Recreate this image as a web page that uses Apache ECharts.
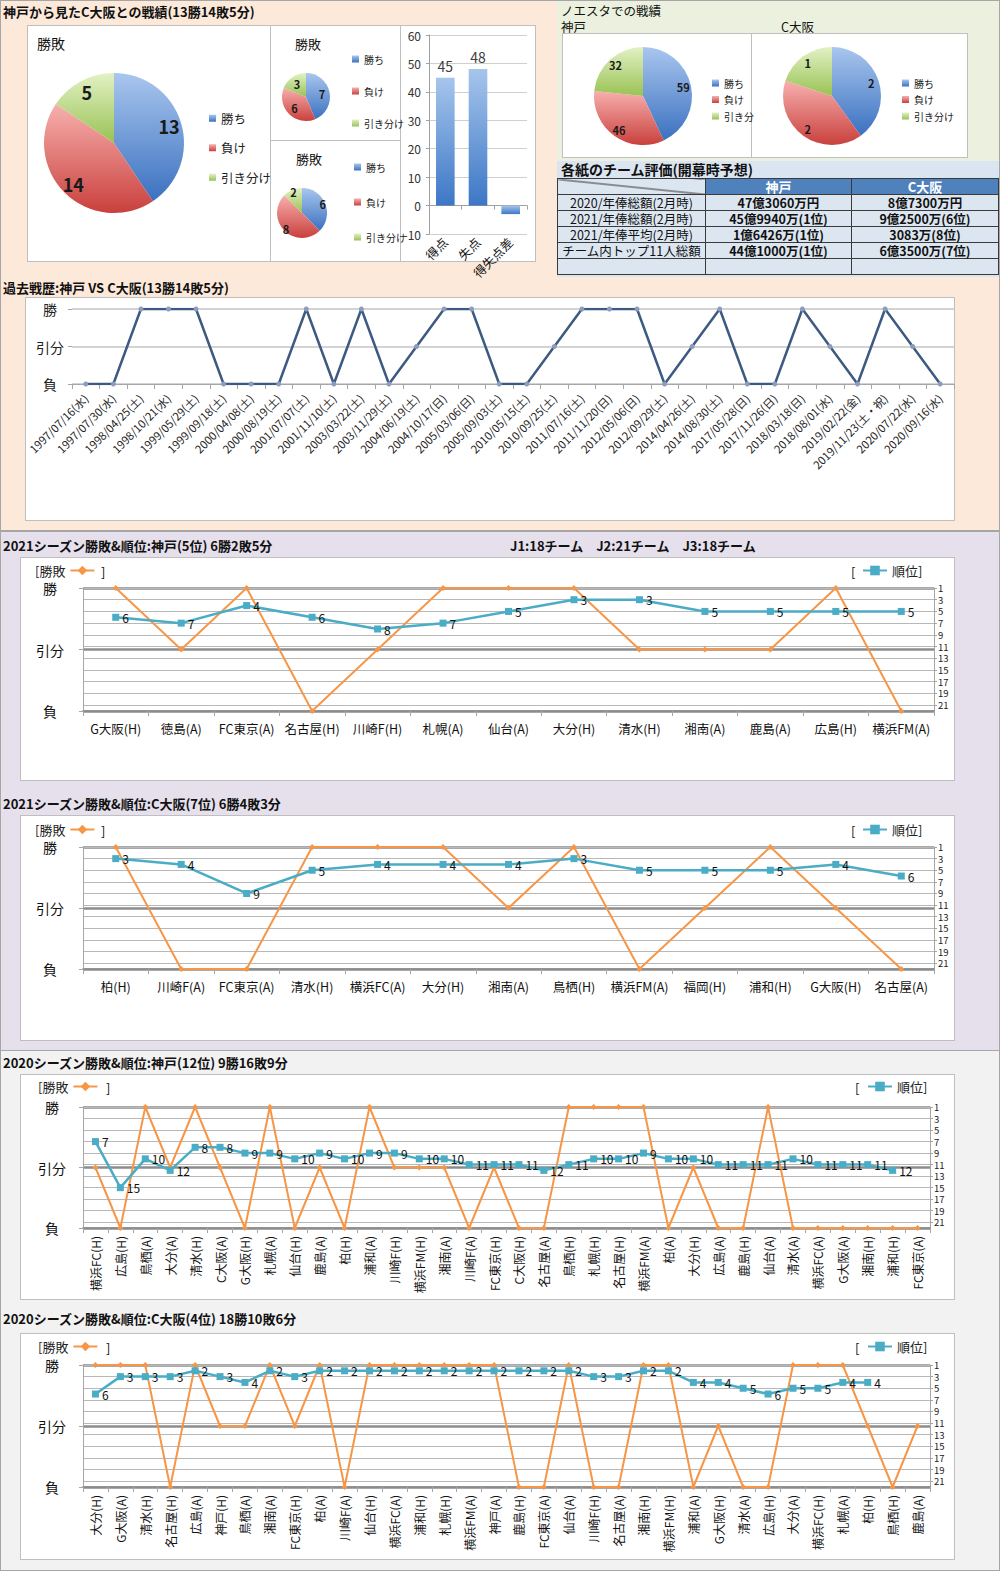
<!DOCTYPE html>
<html lang="ja">
<head>
<meta charset="utf-8">
<title>神戸 vs C大阪</title>
<script src="https://cdn.jsdelivr.net/npm/echarts/dist/echarts.min.js"></script>
<style>
html,body{margin:0;padding:0;}
body{width:1000px;height:1571px;overflow:hidden;font-family:'Noto Sans CJK JP','Noto Sans',sans-serif;color:#111;}
#page{position:relative;width:1000px;height:1571px;}
.bg,.box,.ln{position:absolute;box-sizing:border-box;}
.box{background:#fff;border:1px solid #bfbfbf;}
.ln{background:#bfbfbf;}
.t{position:absolute;white-space:nowrap;z-index:3;}
#chart{position:absolute;left:0;top:0;width:1000px;height:1571px;z-index:2;}
#tbl{position:absolute;left:557px;top:178px;width:441px;border-collapse:collapse;z-index:3;table-layout:fixed;font-size:12.5px;}
#tbl td{border:1px solid #3a3a3a;padding:0;height:15px;line-height:15px;text-align:center;background:#dce6f1;white-space:nowrap;}
#tbl td.b{font-weight:bold;font-size:12.5px;}
#tbl tr.h td{background:#4f81bd;color:#fff;font-weight:bold;height:15px;line-height:15px;font-size:13px;}
#tbl tr.h td.diag{background:linear-gradient(to top right,#dce6f1 calc(50% - 1px),#333 50%,#dce6f1 calc(50% + 1px));}
</style>
</head>
<body>
<div id="page">
  <div class="bg" style="left:0;top:0;width:1000px;height:531px;background:#fde9d9;border:1px solid #a6a6a6;"></div>
  <div class="bg" style="left:557px;top:1px;width:442px;height:160px;background:#ebf1de;"></div>
  <div class="bg" style="left:557px;top:161px;width:442px;height:116px;background:#dbe5f1;"></div>
  <div class="bg" style="left:0;top:531px;width:1000px;height:520px;background:#e5e0ec;border:1px solid #a6a6a6;"></div>
  <div class="bg" style="left:0;top:1050px;width:1000px;height:521px;background:#f2f2f2;border:1px solid #a6a6a6;"></div>

  <div class="box" style="left:27px;top:25px;width:509px;height:237px;"></div>
  <div class="ln" style="left:270px;top:25px;width:1px;height:237px;"></div>
  <div class="ln" style="left:400px;top:25px;width:1px;height:237px;"></div>
  <div class="ln" style="left:270px;top:140px;width:130px;height:1px;"></div>
  <div class="box" style="left:562px;top:33px;width:190px;height:125px;"></div>
  <div class="box" style="left:751px;top:33px;width:217px;height:125px;"></div>
  <div class="box" style="left:25px;top:297px;width:930px;height:224px;"></div>
  <div class="box" style="left:20px;top:557px;width:935px;height:224px;"></div>
  <div class="box" style="left:20px;top:815px;width:935px;height:226px;"></div>
  <div class="box" style="left:20px;top:1074px;width:935px;height:226px;"></div>
  <div class="box" style="left:20px;top:1333px;width:935px;height:227px;"></div>

  <table id="tbl"></table>
  <div id="chart"></div>
</div>
<script>
// ---------------- data ----------------
const pieNames = ['勝ち', '負け', '引き分け'];
const allRecord = [13, 14, 5];
const recordA = [7, 6, 3];
const recordB = [6, 8, 2];
const goalCats = ['得点', '失点', '得失点差'];
const goalVals = [45, 48, -3];
const noestaKobe = [59, 46, 32];
const noestaCOsaka = [2, 2, 1];
const resultLabels = ['負', '引分', '勝'];
const rankTicks = [1, 3, 5, 7, 9, 11, 13, 15, 17, 19, 21];

const histDates = ['1997/07/16(水)','1997/07/30(水)','1998/04/25(土)','1998/10/21(水)','1999/05/29(土)','1999/09/18(土)','2000/04/08(土)','2000/08/19(土)','2001/07/07(土)','2001/11/10(土)','2003/03/22(土)','2003/11/29(土)','2004/06/19(土)','2004/10/17(日)','2005/03/06(日)','2005/09/03(土)','2010/05/15(土)','2010/09/25(土)','2011/07/16(土)','2011/11/20(日)','2012/05/06(日)','2012/09/29(土)','2014/04/26(土)','2014/08/30(土)','2017/05/28(日)','2017/11/26(日)','2018/03/18(日)','2018/08/01(水)','2019/02/22(金)','2019/11/23(土・祝)','2020/07/22(水)','2020/09/16(水)'];
const histResults = ['負','負','勝','勝','勝','負','負','負','勝','負','勝','負','引分','勝','勝','負','負','引分','勝','勝','勝','負','引分','勝','負','負','勝','引分','負','勝','引分','負'];

const k2021Opp = ['G大阪(H)','徳島(A)','FC東京(A)','名古屋(H)','川崎F(H)','札幌(A)','仙台(A)','大分(H)','清水(H)','湘南(A)','鹿島(A)','広島(H)','横浜FM(A)'];
const k2021Res = ['勝','引分','勝','負','引分','勝','勝','勝','引分','引分','引分','勝','負'];
const k2021Rank = [6, 7, 4, 6, 8, 7, 5, 3, 3, 5, 5, 5, 5];

const c2021Opp = ['柏(H)','川崎F(A)','FC東京(A)','清水(H)','横浜FC(A)','大分(H)','湘南(A)','鳥栖(H)','横浜FM(A)','福岡(H)','浦和(H)','G大阪(H)','名古屋(A)'];
const c2021Res = ['勝','負','負','勝','勝','勝','引分','勝','負','引分','勝','引分','負'];
const c2021Rank = [3, 4, 9, 5, 4, 4, 4, 3, 5, 5, 5, 4, 6];

const k2020Opp = ['横浜FC(H)','広島(H)','鳥栖(A)','大分(A)','清水(H)','C大阪(A)','G大阪(H)','札幌(A)','仙台(H)','鹿島(A)','柏(H)','浦和(A)','川崎F(H)','横浜FM(H)','湘南(A)','川崎F(A)','FC東京(H)','C大阪(H)','名古屋(A)','鳥栖(H)','札幌(H)','名古屋(H)','横浜FM(A)','柏(A)','大分(H)','広島(A)','鹿島(H)','仙台(A)','清水(A)','横浜FC(A)','G大阪(A)','湘南(H)','浦和(H)','FC東京(A)'];
const k2020Res = ['引分','負','勝','引分','勝','引分','負','勝','負','引分','負','勝','引分','引分','引分','負','引分','負','負','勝','勝','勝','勝','負','引分','負','負','勝','負','負','負','負','負','負'];
const k2020Rank = [7,15,10,12,8,8,9,9,10,9,10,9,9,10,10,11,11,11,12,11,10,10,9,10,10,11,11,11,10,11,11,11,12,null];

const c2020Opp = ['大分(H)','G大阪(A)','清水(H)','名古屋(H)','広島(A)','神戸(H)','鳥栖(A)','湘南(A)','FC東京(H)','柏(A)','川崎F(A)','仙台(H)','横浜FC(A)','浦和(H)','札幌(H)','横浜FM(A)','神戸(A)','鹿島(H)','FC東京(A)','仙台(A)','川崎F(H)','名古屋(A)','湘南(H)','横浜FM(H)','浦和(A)','G大阪(H)','清水(A)','広島(H)','大分(A)','横浜FC(H)','札幌(A)','柏(H)','鳥栖(H)','鹿島(A)'];
const c2020Res = ['勝','勝','勝','負','勝','引分','引分','勝','引分','勝','負','勝','勝','勝','勝','勝','勝','負','負','勝','負','負','勝','勝','負','引分','負','負','勝','勝','勝','引分','負','引分'];
const c2020Rank = [6,3,3,3,2,3,4,2,3,2,2,2,2,2,2,2,2,2,2,2,3,3,2,2,4,4,5,6,5,5,4,4,null,null];

const tableHead = ['', '神戸', 'C大阪'];
const tableRows = [
  ['2020/年俸総額(2月時)', '47億3060万円', '8億7300万円'],
  ['2021/年俸総額(2月時)', '45億9940万(1位)', '9億2500万(6位)'],
  ['2021/年俸平均(2月時)', '1億6426万(1位)', '3083万(8位)'],
  ['チーム内トップ11人総額', '44億1000万(1位)', '6億3500万(7位)'],
  ['', '', '']
];

// ---------------- texts ----------------
const page = document.getElementById('page');
function txt(s, x, yc, size, opts) {
  opts = opts || {};
  const d = document.createElement('div');
  d.className = 't';
  d.textContent = s;
  const lh = Math.round(size * 1.3);
  d.style.left = x + 'px';
  d.style.top = (yc - lh / 2) + 'px';
  d.style.fontSize = size + 'px';
  d.style.lineHeight = lh + 'px';
  if (opts.bold) d.style.fontWeight = 'bold';
  page.appendChild(d);
}
txt('神戸から見たC大阪との戦績(13勝14敗5分)', 3, 11, 13, {bold: true});
txt('勝敗', 37, 43, 14);
txt('勝敗', 295, 43, 13);
txt('勝敗', 296, 158, 13);
txt('ノエスタでの戦績', 561, 11, 12.5);
txt('神戸', 561, 27, 12.5);
txt('C大阪', 781, 27, 12.5);
txt('各紙のチーム評価(開幕時予想)', 561, 169, 14, {bold: true});
txt('過去戦歴:神戸 VS C大阪(13勝14敗5分)', 3, 287, 13, {bold: true});
txt('2021シーズン勝敗&順位:神戸(5位) 6勝2敗5分', 3, 545, 13, {bold: true});
txt('J1:18チーム\u3000J2:21チーム\u3000J3:18チーム', 510, 545, 13, {bold: true});
txt('2021シーズン勝敗&順位:C大阪(7位) 6勝4敗3分', 3, 803, 13, {bold: true});
txt('2020シーズン勝敗&順位:神戸(12位) 9勝16敗9分', 3, 1062, 13, {bold: true});
txt('2020シーズン勝敗&順位:C大阪(4位) 18勝10敗6分', 3, 1318, 13, {bold: true});

// table
const tbl = document.getElementById('tbl');
let html = '<colgroup><col style="width:148px"><col style="width:146px"><col style="width:147px"></colgroup>';
html += '<tr class="h">' + tableHead.map((h, i) => '<td' + (i === 0 ? ' class="diag"' : '') + '>' + h + '</td>').join('') + '</tr>';
tableRows.forEach(r => {
  html += '<tr>' + r.map((c, i) => '<td' + (i > 0 ? ' class="b"' : '') + '>' + (c || '&nbsp;') + '</td>').join('') + '</tr>';
});
tbl.innerHTML = html;

// ---------------- chart ----------------
const chart = echarts.init(document.getElementById('chart'), null, {renderer: 'svg', width: 1000, height: 1571});
const FONT = "'Noto Sans CJK JP', 'Noto Sans', sans-serif";
const grad = (c1, c2) => ({type: 'linear', x: 0, y: 0, x2: 0, y2: 1, colorStops: [{offset: 0, color: c1}, {offset: 1, color: c2}]});
const pieColors = [grad('#a9c6ee', '#3b71c0'), grad('#f7b0ae', '#c9403d'), grad('#e2f1c4', '#99c254')];

const grids = [], xAxes = [], yAxes = [], legends = [], series = [];

function addPie(center, r, values, fs, inner) {
  series.push({
    type: 'pie', center: center, radius: r, startAngle: 90, clockwise: true, silent: true,
    label: {show: false}, labelLine: {show: false}, itemStyle: {borderWidth: 0}, emphasis: {disabled: true},
    data: values.map((v, k) => ({name: pieNames[k], value: v, itemStyle: {color: pieColors[k]}}))
  });
  series.push({
    type: 'pie', center: center, radius: [r * inner, r], startAngle: 90, clockwise: true, silent: true,
    itemStyle: {color: 'rgba(0,0,0,0)', borderWidth: 0}, emphasis: {disabled: true},
    label: {show: true, position: 'inside', formatter: '{c}', fontSize: fs, fontWeight: 'bold', color: '#1a1a1a', fontFamily: FONT},
    labelLine: {show: false},
    data: values.map((v, k) => ({name: pieNames[k], value: v}))
  });
}
function addPieLegend(left, top, gap, fs, clipW) {
  const ts = {fontSize: fs, color: '#222', fontFamily: FONT};
  if (clipW) { ts.width = clipW; ts.overflow = 'truncate'; ts.ellipsis = ''; }
  legends.push({
    left: left, top: top, orient: 'vertical', data: pieNames, icon: 'rect', itemWidth: 7, itemHeight: 7,
    itemGap: gap, padding: 0, selectedMode: false, textStyle: ts
  });
}
addPie([114, 143], 70, allRecord, 18, 0.56);
addPie([306, 97], 24, recordA, 11, 0.1);
addPie([302, 213], 25, recordB, 11, 0.56);
addPie([643, 96], 49, noestaKobe, 11, 0.56);
addPie([832, 96], 49, noestaCOsaka, 11, 0.56);
addPieLegend(209, 112, 17, 12.5);
addPieLegend(352, 54, 22, 10);
addPieLegend(354, 162, 25, 10);
addPieLegend(712, 78, 6.5, 10, 31);
addPieLegend(902, 78, 6.5, 10);

// bar chart: goals
grids.push({left: 429, top: 35, width: 98, height: 199, outerBoundsMode: 'none'});
xAxes.push({
  type: 'category', gridIndex: 0, data: goalCats,
  axisLine: {onZero: true, lineStyle: {color: '#a0a0a0'}},
  axisTick: {show: true, length: 4, lineStyle: {color: '#a0a0a0'}},
  axisLabel: {interval: 0, rotate: 45, fontSize: 12.5, color: '#111', margin: 6, fontFamily: FONT}
});
yAxes.push({
  type: 'value', gridIndex: 0, min: -10, max: 60, interval: 10,
  axisLine: {show: true, lineStyle: {color: '#a0a0a0'}},
  axisTick: {show: true, length: 3, lineStyle: {color: '#a0a0a0'}},
  axisLabel: {fontSize: 12, color: '#333', margin: 8, fontFamily: FONT},
  splitLine: {lineStyle: {color: '#cfcfcf'}}
});
series.push({
  type: 'bar', xAxisIndex: 0, yAxisIndex: 0, data: goalVals, barWidth: '57%', silent: true,
  itemStyle: {color: grad('#a6c5ec', '#3c77c6')},
  label: {show: true, position: 'top', fontSize: 14, color: '#404040', fontFamily: FONT,
    formatter: p => (p.value > 0 ? String(p.value) : '')}
});

// history line chart
grids.push({left: 72, top: 309, width: 882, height: 75, outerBoundsMode: 'none'});
xAxes.push({
  type: 'category', gridIndex: 1, data: histDates, boundaryGap: true,
  axisLine: {lineStyle: {color: '#a6a6a6'}},
  axisTick: {show: true, interval: 0, length: 5, lineStyle: {color: '#a6a6a6'}},
  axisLabel: {interval: 0, rotate: 45, fontSize: 11.2, color: '#222', margin: 12, fontFamily: FONT}
});
yAxes.push({
  type: 'value', gridIndex: 1, min: 0, max: 2, interval: 1,
  axisLine: {show: false}, axisTick: {show: true, length: 4, lineStyle: {color: '#a6a6a6'}},
  axisLabel: {formatter: v => resultLabels[v], fontSize: 14, color: '#222', align: 'center', margin: 22, fontFamily: FONT},
  splitLine: {lineStyle: {color: '#c4c4c4', width: 1.5}}
});
series.push({
  type: 'line', xAxisIndex: 1, yAxisIndex: 1, name: '過去戦歴',
  data: histResults.map(r => resultLabels.indexOf(r)),
  symbol: 'circle', symbolSize: 5, silent: true,
  lineStyle: {color: '#3d5a80', width: 2.5}, itemStyle: {color: '#8c9cbf'}
});

// season charts
const matchCfgs = [
  {cats: k2021Opp, res: k2021Res, rank: k2021Rank, top: 588, height: 123, width: 851, rotate: 0, fs: 12.5, margin: 11, lm: 33, legY: 571, legL: 35, rankL: 862, brR: 101, brL: 851},
  {cats: c2021Opp, res: c2021Res, rank: c2021Rank, top: 847, height: 122, width: 851, rotate: 0, fs: 12.5, margin: 11, lm: 33, legY: 830, legL: 35, rankL: 862, brR: 101, brL: 851},
  {cats: k2020Opp, res: k2020Res, rank: k2020Rank, top: 1107, height: 121, width: 847, rotate: 90, fs: 12, margin: 8, lm: 31, legY: 1087, legL: 38, rankL: 867, brR: 106, brL: 855},
  {cats: c2020Opp, res: c2020Res, rank: c2020Rank, top: 1365, height: 122, width: 847, rotate: 90, fs: 12, margin: 8, lm: 31, legY: 1347, legL: 38, rankL: 867, brR: 106, brL: 855}
];
matchCfgs.forEach((c, j) => {
  const gi = 2 + j;
  grids.push({left: 83, top: c.top, width: c.width, height: c.height, outerBoundsMode: 'none'});
  xAxes.push({
    type: 'category', gridIndex: gi, data: c.cats, boundaryGap: true,
    axisLine: {lineStyle: {color: '#8c8c8c', width: 1.5}},
    axisTick: {show: true, interval: 0, length: 5, lineStyle: {color: '#a6a6a6'}},
    axisLabel: {interval: 0, rotate: c.rotate, fontSize: c.fs, color: '#111', margin: c.margin, fontFamily: FONT}
  });
  yAxes.push({
    type: 'value', gridIndex: gi, min: 0, max: 2, interval: 1, position: 'left',
    axisLine: {show: true, lineStyle: {color: '#a6a6a6'}},
    axisTick: {show: true, length: 4, lineStyle: {color: '#a6a6a6'}},
    axisLabel: {formatter: v => resultLabels[v], fontSize: 14, color: '#111', align: 'center', margin: c.lm, fontFamily: FONT},
    splitLine: {lineStyle: {color: '#8c8c8c', width: 2.5}}
  });
  yAxes.push({
    type: 'value', gridIndex: gi, min: 1, max: 22, inverse: true, position: 'right',
    axisLine: {show: true, lineStyle: {color: '#a6a6a6'}},
    axisTick: {show: true, length: 3, customValues: rankTicks, lineStyle: {color: '#a6a6a6'}},
    axisLabel: {customValues: rankTicks, fontSize: 9.5, lineHeight: 9.5, color: '#222', margin: 4, fontFamily: FONT},
    splitLine: {show: true, lineStyle: {color: '#b8b8b8', width: 1.2}}
  });
  series.push({
    type: 'line', name: '勝敗', xAxisIndex: gi, yAxisIndex: 2 + 2 * j, silent: true, z: 3,
    data: c.res.map(r => resultLabels.indexOf(r)),
    symbol: 'diamond', symbolSize: 6,
    lineStyle: {color: '#f79646', width: 2}, itemStyle: {color: '#f79646'}
  });
  series.push({
    type: 'line', name: '順位', xAxisIndex: gi, yAxisIndex: 3 + 2 * j, silent: true, z: 4,
    data: c.rank, connectNulls: false,
    symbol: 'rect', symbolSize: 7,
    lineStyle: {color: '#4bacc6', width: 2.5}, itemStyle: {color: '#4bacc6'},
    label: {show: true, position: 'right', distance: 3, fontSize: 12, color: '#111', fontFamily: FONT}
  });
  legends.push({
    left: c.legL, top: c.legY - 7, data: ['勝敗'], align: 'right', formatter: '[勝敗',
    itemWidth: 24, itemHeight: 12, padding: 0, selectedMode: false,
    textStyle: {fontSize: 13, color: '#222', fontFamily: FONT}
  });
  legends.push({
    left: c.rankL, top: c.legY - 7, data: ['順位'], align: 'left', formatter: '順位]',
    itemWidth: 24, itemHeight: 12, padding: 0, selectedMode: false,
    textStyle: {fontSize: 13, color: '#222', fontFamily: FONT}
  });
  txt(']', c.brR, c.legY, 13);
  txt('[', c.brL, c.legY, 13);
});

chart.setOption({
  animation: false,
  textStyle: {fontFamily: FONT},
  grid: grids, xAxis: xAxes, yAxis: yAxes, legend: legends, series: series
});
</script>
</body>
</html>
